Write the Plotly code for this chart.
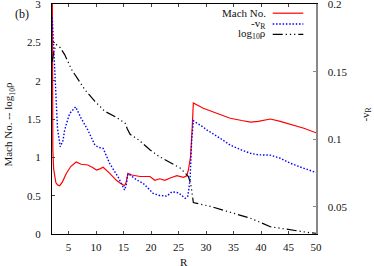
import plotly.graph_objects as go

# ---------------- data ----------------
R_mach = [2.05, 2.15, 2.3, 2.5, 2.7, 3.0, 3.4, 3.9, 4.6, 5.4, 6.4, 7.3, 8.5, 9.3, 10.1,
          10.7, 11.3, 12.5, 13.7, 14.5, 15.2, 15.5, 15.8, 16.5, 18.0, 19.8, 20.7, 21.6,
          22.5, 23.5, 24.7, 25.9, 26.5, 26.8, 27.0, 27.2, 27.5, 27.7, 29.5, 31.4, 32.6,
          34.4, 36.5, 38.1, 39.5, 41.7, 43.5, 45.5, 47.8, 50.0]
mach = [3.3, 1.1, 0.85, 0.74, 0.67, 0.64, 0.63, 0.68, 0.79, 0.88, 0.94, 0.91, 0.90, 0.87,
        0.835, 0.85, 0.87, 0.79, 0.70, 0.66, 0.63, 0.68, 0.79, 0.77, 0.75, 0.75, 0.70, 0.72,
        0.70, 0.73, 0.76, 0.74, 0.76, 0.835, 0.90, 1.01, 1.40, 1.71, 1.64, 1.59, 1.55,
        1.51, 1.48, 1.46, 1.47, 1.50, 1.47, 1.43, 1.38, 1.32]

R_v = [2.05, 2.3, 2.6, 3.0, 3.5, 4.0, 4.3, 5.2, 6.3, 7.3, 8.5, 9.8, 10.5, 11.3, 12.5, 14.0,
       15.2, 15.5, 15.8, 16.2, 17.4, 18.6, 20.4, 21.5, 22.9, 23.8, 25.0, 26.2, 26.7, 27.1,
       27.4, 27.7, 29.5, 30.2, 32.6, 34.4, 36.5, 38.1, 39.6, 41.7, 43.5, 45.4, 47.5, 50.0]
neg_vR = [0.19, 0.17, 0.14, 0.108, 0.0945, 0.099, 0.107, 0.119, 0.124, 0.1155, 0.107,
          0.0957, 0.094, 0.0933, 0.082, 0.0723, 0.0625, 0.066, 0.0745, 0.0736, 0.070,
          0.0674, 0.060, 0.0585, 0.058, 0.0612, 0.0605, 0.0564, 0.058, 0.070, 0.0994,
          0.1137, 0.109, 0.1068, 0.1007, 0.0957, 0.092, 0.0896, 0.0885, 0.0883, 0.086,
          0.0822, 0.079, 0.0755]

R_rho = [2.05, 2.4, 2.8, 3.5, 4.3, 5.6, 6.8, 8.0, 9.8, 11.6, 13.5, 15.3, 15.7, 16.2, 17.7,
         19.8, 21.5, 23.5, 25.3, 26.8, 27.2, 27.4, 27.7, 30.8, 34.4, 38.1, 41.7, 45.4,
         49.0, 50.0]
log_rho = [2.25, 2.40, 2.47, 2.43, 2.34, 2.14, 2.01, 1.88, 1.73, 1.60, 1.53, 1.445, 1.37,
           1.30, 1.23, 1.10, 1.01, 0.93, 0.86, 0.75, 0.66, 0.57, 0.41, 0.36, 0.28, 0.205,
           0.095, 0.052, 0.015, 0.01]

x_ticks = [5, 10, 15, 20, 25, 30, 35, 40, 45, 50]
y1_ticks = [0, 0.5, 1, 1.5, 2, 2.5, 3]
y2_ticks = [0.05, 0.1, 0.15, 0.2]

legend_labels = ["Mach No.", "-v<sub>R</sub>", "log<sub>10</sub>ρ"]

# ---------------- styles ----------------
FONT = "Liberation Serif"
RED = "#ff0000"
BLUE = "#0000ff"
BLACK = "#000000"
DASHDOT = "10px,3px,1.2px,3px,1.2px,3px,1.2px,3px"
DOT = "1.5px,1.8px"

fig = go.Figure()
fig.add_trace(go.Scatter(x=R_mach, y=mach, mode="lines", hoverinfo="skip",
                         line=dict(color=RED, width=1.2), yaxis="y"))
fig.add_trace(go.Scatter(x=R_v, y=neg_vR, mode="lines", hoverinfo="skip",
                         line=dict(color=BLUE, width=1.4, dash=DOT), yaxis="y2"))
fig.add_trace(go.Scatter(x=R_rho, y=log_rho, mode="lines", hoverinfo="skip",
                         line=dict(color=BLACK, width=1.2, dash=DASHDOT), yaxis="y"))

tickfont = dict(family=FONT, size=11, color="#111")

fig.update_layout(
    width=374, height=266,
    margin=dict(l=52, r=58, t=4, b=32),
    paper_bgcolor="white", plot_bgcolor="white",
    showlegend=False,
    font=dict(family=FONT, size=11, color="#111"),
    xaxis=dict(range=[2, 50], tickvals=x_ticks, ticks="inside", ticklen=3,
               showline=True, linecolor=BLACK, linewidth=1, mirror="ticks",
               showgrid=False, zeroline=False, tickfont=tickfont, automargin=False,
               ticklabelstandoff=3, ticklabeloverflow="allow"),
    yaxis=dict(range=[0, 3], tickvals=y1_ticks, ticks="inside", ticklen=3,
               showline=True, linecolor=BLACK, linewidth=1, mirror=False,
               showgrid=False, zeroline=False, tickfont=tickfont, automargin=False,
               ticklabelstandoff=8, ticklabeloverflow="allow"),
    yaxis2=dict(range=[0.03, 0.2], tickvals=y2_ticks, ticks="inside", ticklen=3,
                overlaying="y", side="right", anchor="x", automargin=False,
                showline=True, linecolor="#888888", linewidth=1.5, tickcolor="#888888",
                showgrid=False, zeroline=False, tickfont=tickfont,
                ticklabelstandoff=8, ticklabeloverflow="allow"),
)

annotations = [
    dict(text="Mach No. -- log<sub>10</sub>ρ", xref="paper", yref="paper",
         x=-0.163, y=0.48, textangle=-90, showarrow=False,
         xanchor="center", yanchor="middle", font=dict(family=FONT, size=11)),
    dict(text="-v<sub>R</sub>", xref="paper", yref="paper",
         x=1.19, y=0.52, textangle=-90, showarrow=False,
         xanchor="center", yanchor="middle", font=dict(family=FONT, size=11)),
    dict(text="R", xref="paper", yref="paper", x=0.5, y=-0.12, showarrow=False,
         xanchor="center", yanchor="middle", font=dict(family=FONT, size=11)),
    dict(text="(b)", xref="paper", yref="paper", x=-0.115, y=0.958, showarrow=False,
         xanchor="center", yanchor="middle", font=dict(family=FONT, size=12)),
]

legend_y = [0.96, 0.913, 0.868]
legend_styles = [dict(color=RED, width=1.2),
                 dict(color=BLUE, width=1.4, dash=DOT),
                 dict(color=BLACK, width=1.2, dash=DASHDOT)]
shapes = []
for lab, ly, st in zip(legend_labels, legend_y, legend_styles):
    annotations.append(dict(text=lab, xref="paper", yref="paper", x=0.82, y=ly,
                            showarrow=False, xanchor="right", yanchor="middle",
                            font=dict(family=FONT, size=11)))
    shapes.append(dict(type="line", xref="paper", yref="paper",
                       x0=0.836, x1=0.952, y0=ly, y1=ly, line=st))

fig.update_layout(annotations=annotations, shapes=shapes)
fig.write_html("out.html",
               config={"displayModeBar": False, "staticPlot": True},
               post_script="document.body.style.margin='0';"
                           "document.body.style.overflow='hidden';")
